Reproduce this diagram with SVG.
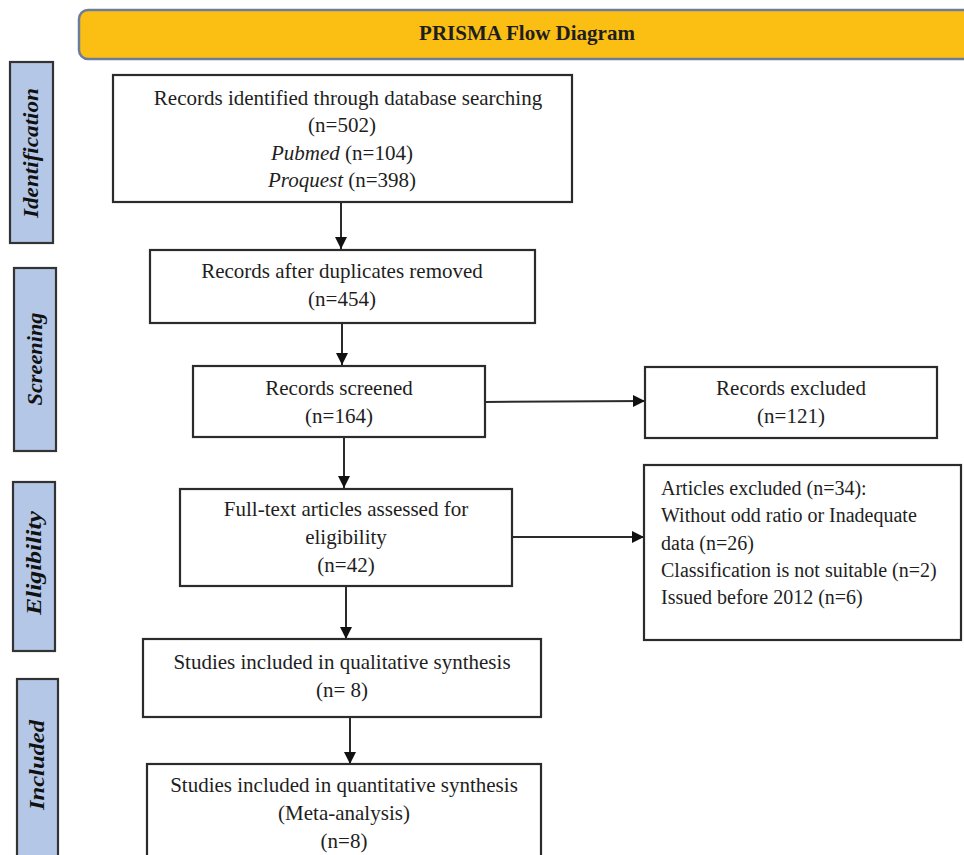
<svg xmlns="http://www.w3.org/2000/svg" width="964" height="855" viewBox="0 0 964 855">
<style>
.box{fill:#fff;stroke:#2b2b2b;stroke-width:2.2}
.side{fill:#b4c7e7;stroke:#333;stroke-width:2.2}
.t{font-family:"Liberation Serif","Times New Roman",serif;font-size:21px;fill:#1e1e1e;text-anchor:middle}
.tl{font-family:"Liberation Serif","Times New Roman",serif;font-size:20px;fill:#1e1e1e}
.s{font-family:"Liberation Serif","Times New Roman",serif;font-size:21px;font-weight:bold;font-style:italic;fill:#111;text-anchor:middle}
.c{stroke:#2b2b2b;stroke-width:2;fill:none;marker-end:url(#ah)}
</style>
<defs>
<marker id="ah" viewBox="0 0 10 10" refX="10" refY="5" markerWidth="6" markerHeight="6.5" markerUnits="strokeWidth" orient="auto">
<path d="M0,0 L10,5 L0,10 z" fill="#111"/>
</marker>
</defs>
<rect width="964" height="855" fill="#fff"/>
<g id="header">
<rect x="79" y="10" width="920" height="49" rx="9" fill="#fbbf14" stroke="#6b7c9c" stroke-width="2.5"/>
<text x="527" y="40" class="t" font-weight="bold">PRISMA Flow Diagram</text>
</g>
<g id="stage-identification">
<rect class="side" x="10" y="62" width="43" height="181"/>
<text class="s" transform="translate(38,153) rotate(-90)" textLength="130" lengthAdjust="spacingAndGlyphs">Identification</text>
</g>
<g id="stage-screening">
<rect class="side" x="14" y="268" width="42" height="183"/>
<text class="s" transform="translate(42,359) rotate(-90)" textLength="93" lengthAdjust="spacingAndGlyphs">Screening</text>
</g>
<g id="stage-eligibility">
<rect class="side" x="13" y="482" width="42" height="169"/>
<text class="s" transform="translate(41,563) rotate(-90)" textLength="104" lengthAdjust="spacingAndGlyphs">Eligibility</text>
</g>
<g id="stage-included">
<rect class="side" x="17" y="679" width="41" height="190"/>
<text class="s" transform="translate(44,765) rotate(-90)" textLength="90" lengthAdjust="spacingAndGlyphs">Included</text>
</g>
<g id="connectors">
<line class="c" x1="341" y1="203" x2="341" y2="249"/>
<line class="c" x1="342" y1="323" x2="342" y2="365"/>
<line class="c" x1="344" y1="438" x2="344" y2="488"/>
<line class="c" x1="346" y1="587" x2="346" y2="639"/>
<line class="c" x1="350" y1="717" x2="350" y2="764"/>
<line class="c" x1="485" y1="402" x2="645" y2="401"/>
<line class="c" x1="512" y1="537" x2="644" y2="537"/>
</g>
<g id="n1">
<rect class="box" x="113" y="75" width="459" height="127"/>
<text class="t" x="348" y="105">Records identified through database searching</text>
<text class="t" x="342" y="132">(n=502)</text>
<text class="t" x="342" y="160"><tspan font-style="italic">Pubmed</tspan> (n=104)</text>
<text class="t" x="342" y="187"><tspan font-style="italic">Proquest</tspan> (n=398)</text>
</g>
<g id="n2">
<rect class="box" x="150" y="250" width="385" height="73"/>
<text class="t" x="342" y="278">Records after duplicates removed</text>
<text class="t" x="342" y="306">(n=454)</text>
</g>
<g id="n3">
<rect class="box" x="193" y="366" width="292" height="71"/>
<text class="t" x="339" y="395">Records screened</text>
<text class="t" x="339" y="423">(n=164)</text>
</g>
<g id="n4">
<rect class="box" x="645" y="367" width="292" height="71"/>
<text class="t" x="791" y="395">Records excluded</text>
<text class="t" x="791" y="423">(n=121)</text>
</g>
<g id="n5">
<rect class="box" x="180" y="489" width="332" height="97"/>
<text class="t" x="346" y="516">Full-text articles assessed for</text>
<text class="t" x="346" y="544">eligibility</text>
<text class="t" x="346" y="572">(n=42)</text>
</g>
<g id="n6">
<rect class="box" x="644" y="465" width="317" height="175"/>
<text class="tl" x="661" y="495">Articles excluded (n=34):</text>
<text class="tl" x="661" y="522">Without odd ratio or Inadequate</text>
<text class="tl" x="661" y="550">data (n=26)</text>
<text class="tl" x="661" y="577">Classification is not suitable (n=2)</text>
<text class="tl" x="661" y="604">Issued before 2012 (n=6)</text>
</g>
<g id="n7">
<rect class="box" x="143" y="639" width="398" height="78"/>
<text class="t" x="342" y="669">Studies included in qualitative synthesis</text>
<text class="t" x="342" y="697">(n= 8)</text>
</g>
<g id="n8">
<rect class="box" x="147" y="764" width="394" height="110"/>
<text class="t" x="344" y="792">Studies included in quantitative synthesis</text>
<text class="t" x="344" y="820">(Meta-analysis)</text>
<text class="t" x="344" y="848">(n=8)</text>
</g>
</svg>
